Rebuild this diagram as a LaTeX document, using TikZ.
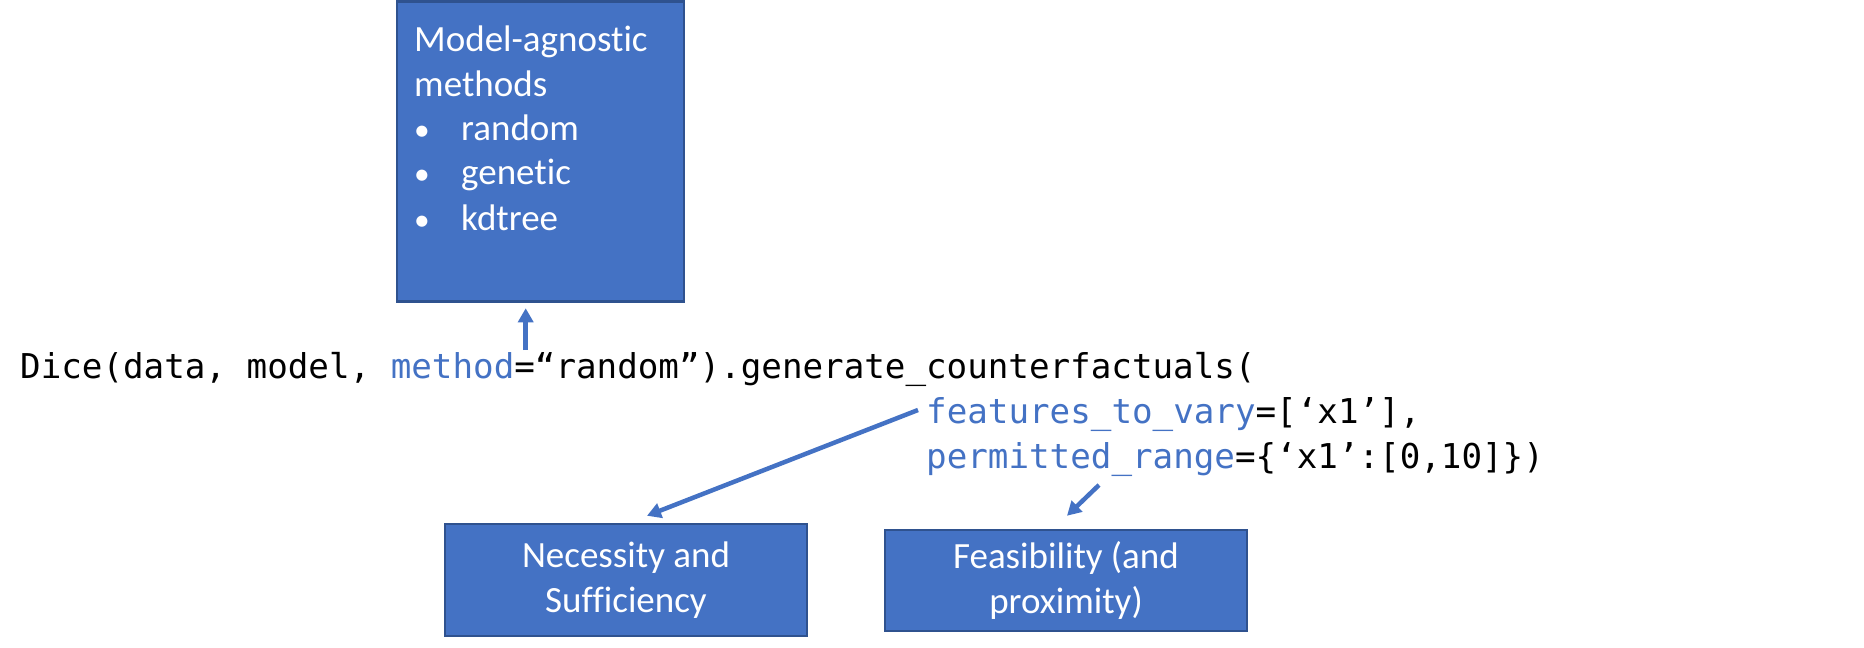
\documentclass[tikz,border=0pt]{standalone}
\usepackage{fontspec}
\setmainfont{Carlito}[Ligatures={NoCommon}]
\newfontfamily\codefont{DejaVu Sans Mono}
\usetikzlibrary{arrows.meta,calc}
\definecolor{boxblue}{HTML}{4472C4}
\definecolor{boxborder}{HTML}{2F528F}
\newcommand{\kw}[1]{\textcolor{boxblue}{#1}}
\tikzset{
  bluebox/.style={draw=boxborder, line width=2.5pt, fill=boxblue, text=white, inner sep=0pt},
  boxtext/.style={text=white, inner sep=0pt, font=\fontsize{37pt}{44.5pt}\selectfont},
  codeline/.style={inner sep=0pt, anchor=base west, font=\codefont\fontsize{34.2pt}{45pt}\selectfont},
  arr/.style={draw=boxblue, line width=4.5pt, -{Triangle[width=15pt,length=14pt]}}
}
\begin{document}
\begin{tikzpicture}[x=1pt,y=-1pt]
\useasboundingbox (0,0) rectangle (1864,648);
% top box
\node[bluebox, minimum width=287pt, minimum height=300pt] (methods) at (540.5,151.5) {};
\node[boxtext, anchor=base west] (mt1) at (414,51) {Model-agnostic};
\node[boxtext, anchor=base west] (mt2) at (414,96) {methods};
\node[boxtext, anchor=base west] (mb1) at (414,140) {\makebox[47pt][l]{\scalebox{0.85}{•}}random};
\node[boxtext, anchor=base west] (mb2) at (414,184) {\makebox[47pt][l]{\scalebox{0.85}{•}}genetic};
\node[boxtext, anchor=base west] (mb3) at (414,230) {\makebox[47pt][l]{\scalebox{0.85}{•}}kdtree};
% code
\node[codeline] (code1) at (20,378) {Dice(data, model, \kw{method}=“random”).generate\_counterfactuals(};
\node[codeline] (code2) at (926,423) {\kw{features\_to\_vary}=[‘x1’],};
\node[codeline] (code3) at (926,468) {\kw{permitted\_range}=\{‘x1’:[0,10]\})};
% bottom boxes
\node[bluebox, boxtext, align=center, minimum width=362pt, minimum height=112pt] (nec) at (626,580) {Necessity and\\Sufficiency};
\node[bluebox, boxtext, align=center, minimum width=362pt, minimum height=101pt] (fea) at (1066,580.5) {Feasibility (and\\proximity)};
% arrows
\coordinate (eqtop) at (525.7,350);
\coordinate (ftail) at (918,410);
\coordinate (ptail) at (1099,485);
\draw[arr] (eqtop) -- ($(methods.south -| eqtop)+(0,5.5)$);
\draw[arr] (ftail) -- ([shift={(21,-7)}]nec.north);
\draw[arr] (ptail) -- ([shift={(1,-13)}]fea.north);
\end{tikzpicture}
\end{document}
